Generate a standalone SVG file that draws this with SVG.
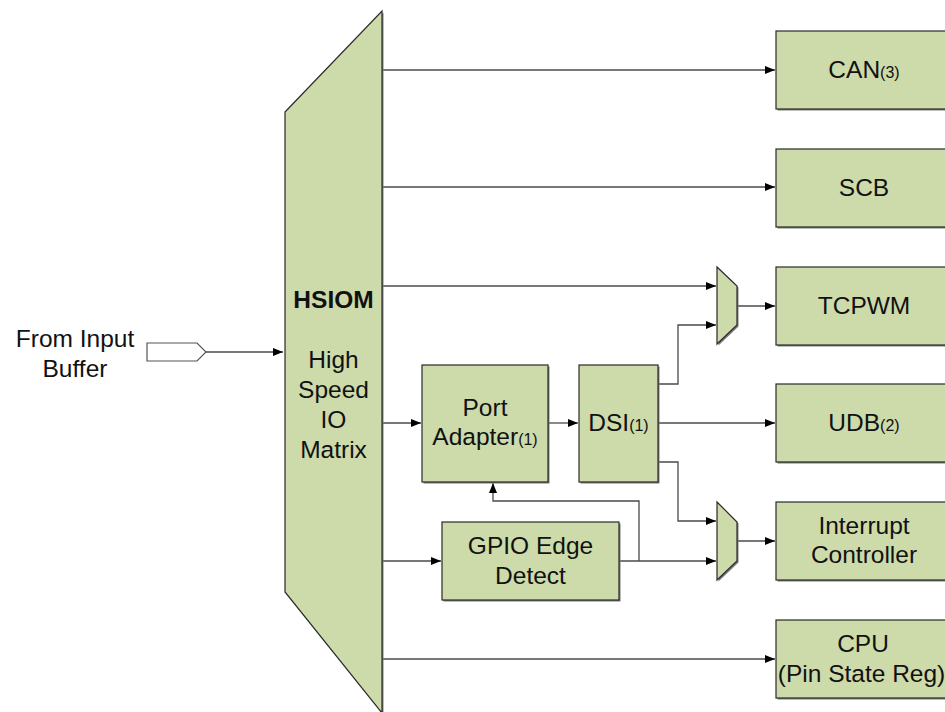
<svg xmlns="http://www.w3.org/2000/svg" width="945" height="712" viewBox="0 0 945 712">
<defs>
<style>
.box{fill:#cddaaa;stroke:#2a2a2a;stroke-width:1.2}
.sh{fill:#7a7a7a;stroke:none}
.ln{fill:none;stroke:#4a4a4a;stroke-width:1.3}
.t{font-family:"Liberation Sans",Arial,sans-serif;font-size:24.5px;fill:#111;text-anchor:middle}
.s{font-size:16px}
.b{font-weight:bold}
</style>
<marker id="ah" markerUnits="userSpaceOnUse" markerWidth="11" markerHeight="9" refX="10" refY="4" orient="auto">
<path d="M0,0 L10,4 L0,8 z" fill="#000"/>
</marker>
</defs>
<rect width="945" height="712" fill="#fff"/>

<g id="connectors">
<path class="ln" d="M206,352 H283" marker-end="url(#ah)"/>
<path class="ln" d="M383,70 H775" marker-end="url(#ah)"/>
<path class="ln" d="M383,187 H775" marker-end="url(#ah)"/>
<path class="ln" d="M383,286 H716" marker-end="url(#ah)"/>
<path class="ln" d="M737,306 H775" marker-end="url(#ah)"/>
<path class="ln" d="M383,423 H421" marker-end="url(#ah)"/>
<path class="ln" d="M548,423 H578" marker-end="url(#ah)"/>
<path class="ln" d="M658,384 H678 V325 H716" marker-end="url(#ah)"/>
<path class="ln" d="M658,423 H775" marker-end="url(#ah)"/>
<path class="ln" d="M658,462 H678 V521 H716" marker-end="url(#ah)"/>
<path class="ln" d="M383,561 H441" marker-end="url(#ah)"/>
<path class="ln" d="M619,561 H716" marker-end="url(#ah)"/>
<path class="ln" d="M639,561 V501 H493 V483" marker-end="url(#ah)"/>
<path class="ln" d="M737,541 H775" marker-end="url(#ah)"/>
<path class="ln" d="M383,659 H775" marker-end="url(#ah)"/>
</g>

<g id="input-buffer">
<path d="M147,343 H197 L206,352 L197,361 H147 Z" fill="#fff" stroke="#555" stroke-width="1.2"/>
<text class="t" x="75" y="347">From Input</text>
<text class="t" x="75" y="377">Buffer</text>
</g>

<g id="hsiom">
<path class="sh" d="M286.5,113.5 L383.5,12.5 V714 L286.5,593.5 Z"/>
<path class="box" d="M285,112 L382,11 L382,713 L285,592 Z"/>
<text class="t b" x="333.5" y="308">HSIOM</text>
<text class="t" x="333.5" y="368">High</text>
<text class="t" x="333.5" y="398">Speed</text>
<text class="t" x="333.5" y="428">IO</text>
<text class="t" x="333.5" y="458">Matrix</text>
</g>

<g id="can">
<rect class="sh" x="777.5" y="32.5" width="200" height="78"/>
<rect class="box" x="776" y="31" width="200" height="78"/>
<text class="t" x="864" y="78">CAN<tspan class="s">(3)</tspan></text>
</g>

<g id="scb">
<rect class="sh" x="777.5" y="150.5" width="200" height="78"/>
<rect class="box" x="776" y="149" width="200" height="78"/>
<text class="t" x="864" y="196">SCB</text>
</g>

<g id="tcpwm">
<rect class="sh" x="777.5" y="268.5" width="200" height="78"/>
<rect class="box" x="776" y="267" width="200" height="78"/>
<text class="t" x="864" y="314">TCPWM</text>
</g>

<g id="udb">
<rect class="sh" x="777.5" y="385.5" width="200" height="78"/>
<rect class="box" x="776" y="384" width="200" height="78"/>
<text class="t" x="864" y="431">UDB<tspan class="s">(2)</tspan></text>
</g>

<g id="interrupt-controller">
<rect class="sh" x="777.5" y="503.5" width="200" height="78"/>
<rect class="box" x="776" y="502" width="200" height="78"/>
<text class="t" x="864" y="534">Interrupt</text>
<text class="t" x="864" y="563">Controller</text>
</g>

<g id="cpu">
<rect class="sh" x="777.5" y="621.5" width="200" height="78"/>
<rect class="box" x="776" y="620" width="200" height="78"/>
<text class="t" x="863" y="652">CPU</text>
<text class="t" x="861.5" y="681.5">(Pin State Reg)</text>
</g>

<g id="mux-tcpwm">
<path class="sh" d="M718.5,268.5 L738.5,287.5 V326.5 L718.5,345.5 Z"/>
<path class="box" d="M717,267 L737,286 V325 L717,344 Z"/>
</g>

<g id="mux-interrupt">
<path class="sh" d="M718.5,503.5 L738.5,523.5 V562.5 L718.5,581.5 Z"/>
<path class="box" d="M717,502 L737,522 V561 L717,580 Z"/>
</g>

<g id="port-adapter">
<rect class="sh" x="423.5" y="366.5" width="126" height="117"/>
<rect class="box" x="422" y="365" width="126" height="117"/>
<text class="t" x="485" y="416">Port</text>
<text class="t" x="485" y="445">Adapter<tspan class="s">(1)</tspan></text>
</g>

<g id="dsi">
<rect class="sh" x="580.5" y="366.5" width="79" height="117"/>
<rect class="box" x="579" y="365" width="79" height="117"/>
<text class="t" x="618.5" y="431">DSI<tspan class="s">(1)</tspan></text>
</g>

<g id="gpio-edge-detect">
<rect class="sh" x="443.5" y="523.5" width="177" height="78"/>
<rect class="box" x="442" y="522" width="177" height="78"/>
<text class="t" x="530.5" y="554">GPIO Edge</text>
<text class="t" x="530.5" y="583.5">Detect</text>
</g>
</svg>
